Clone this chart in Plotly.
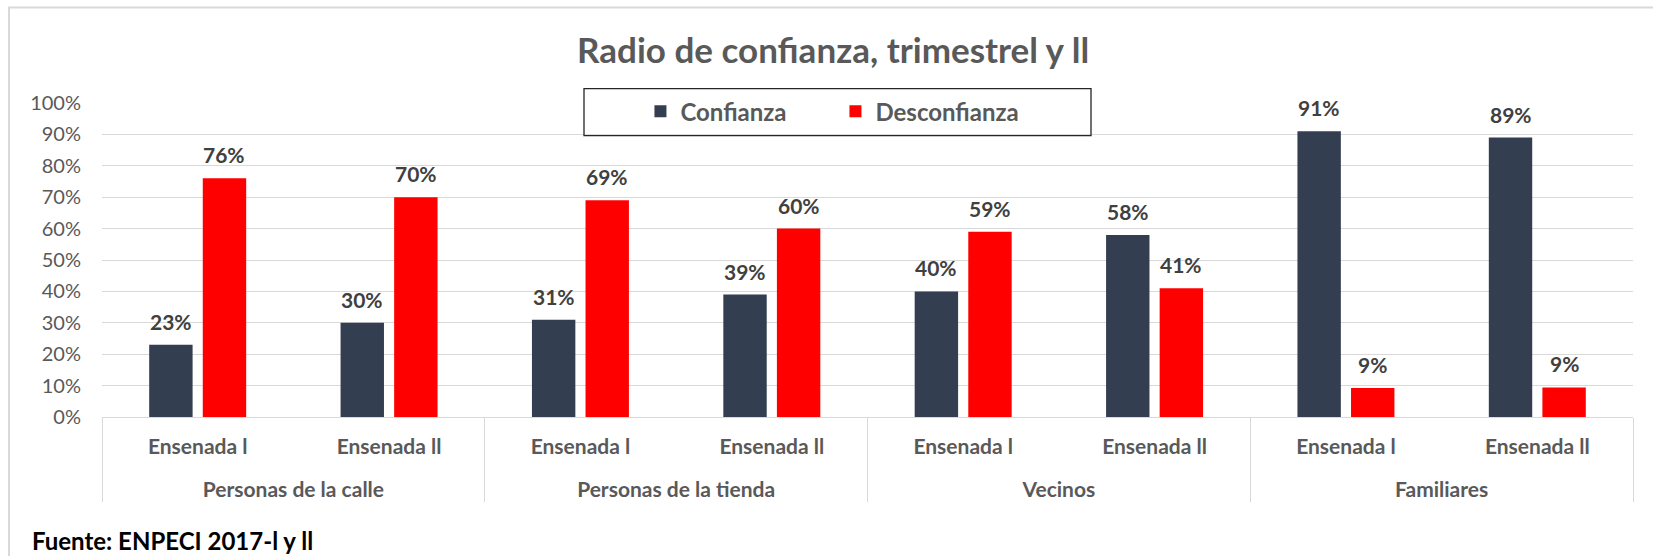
import plotly.graph_objects as go

# Survey categories and periods
grupos = ["Personas de la calle", "Personas de la tienda", "Vecinos", "Familiares"]
periodos = ["Ensenada l", "Ensenada ll"]

# Share of respondents per group/period (fractions)
confianza = [0.23, 0.30, 0.31, 0.39, 0.40, 0.58, 0.91, 0.89]
desconfianza = [0.76, 0.70, 0.69, 0.60, 0.59, 0.41, 0.092, 0.094]

y_ticks = [i / 10 for i in range(11)]

# Inner-level labels get an empty trailing line so the outer level sits lower
x_grupo = [g for g in grupos for _ in periodos]
x_periodo = [p + "<br> " for _ in grupos for p in periodos]

FONT = "Lato"
GRAY = "#595959"
LABEL = "#404040"
GRID = "#d9d9d9"
BARGAP = 0.44
BARGROUPGAP = 0.19

fig = go.Figure()
fig.add_trace(go.Bar(name="Confianza", x=[x_grupo, x_periodo], y=confianza,
                     marker=dict(color="#333F50", line=dict(width=0))))
fig.add_trace(go.Bar(name="Desconfianza", x=[x_grupo, x_periodo], y=desconfianza,
                     marker=dict(color="#FF0000", line=dict(width=0))))

# Value labels above each bar, placed on a hidden numeric axis that mirrors the category slots
half = (1 - BARGAP) / 4
annotations = []
for i, (c, d) in enumerate(zip(confianza, desconfianza)):
    for xv, v in ((i - half, c), (i + half, d)):
        annotations.append(dict(
            x=xv, y=v, xref="x2", yref="y", text=f"<b>{v:.0%}</b>",
            showarrow=False, yanchor="bottom", yshift=9,
            font=dict(family=FONT, size=21, color=LABEL)))

annotations.append(dict(
    x=-0.047, y=-0.392, xref="paper", yref="paper", xanchor="left", yanchor="middle",
    text="<b>Fuente: ENPECI 2017-l y ll</b>", showarrow=False,
    font=dict(family=FONT, size=24, color="#000000")))

fig.update_layout(
    width=1653, height=556,
    margin=dict(l=102, r=20, t=103, b=139, autoexpand=False),
    paper_bgcolor="white", plot_bgcolor="white",
    barmode="group", bargap=BARGAP, bargroupgap=BARGROUPGAP,
    title=dict(text="<b>Radio de confianza, trimestrel y ll</b>",
               x=0.504, xref="container", xanchor="center",
               y=1 - 51 / 556, yref="container", yanchor="middle",
               font=dict(family=FONT, size=35, color=GRAY)),
    legend=dict(orientation="h", x=0.3517, y=0.9726, xanchor="left", yanchor="middle",
                bgcolor="rgba(0,0,0,0)", borderwidth=0,
                entrywidth=150, entrywidthmode="pixels",
                font=dict(family=FONT, size=24, color=GRAY, weight="bold")),
    xaxis=dict(type="multicategory", range=[-0.5, 7.5],
               showline=True, linecolor=GRID, linewidth=1,
               showdividers=True, dividercolor=GRID, dividerwidth=1,
               ticks="", showgrid=False, automargin=False, ticklabelstandoff=11,
               tickfont=dict(family=FONT, size=21, color=GRAY, weight="bold")),
    xaxis2=dict(overlaying="x", range=[-0.5, 7.5], visible=False),
    yaxis=dict(range=[0, 1], tickvals=y_ticks, tickformat=".0%",
               showgrid=True, gridcolor=GRID, gridwidth=1, zeroline=False,
               ticks="", ticklabelstandoff=20, automargin=False,
               tickfont=dict(family=FONT, size=20, color=GRAY)),
    annotations=annotations,
    shapes=[
        # legend frame
        dict(type="rect", xref="paper", yref="paper",
             x0=(584 - 102) / 1531, x1=(1091 - 102) / 1531,
             y0=(416.7 - 136) / 313.3, y1=(416.7 - 89) / 313.3,
             line=dict(color="#262626", width=1.3), fillcolor="rgba(0,0,0,0)"),
        # chart-area frame
        dict(type="rect", xref="paper", yref="paper",
             x0=(9 - 102) / 1531, x1=(1680 - 102) / 1531,
             y0=(416.7 - 580) / 313.3, y1=(416.7 - 8) / 313.3,
             line=dict(color=GRID, width=2), fillcolor="rgba(0,0,0,0)", layer="below"),
    ],
)

fig.write_html("out.html")
